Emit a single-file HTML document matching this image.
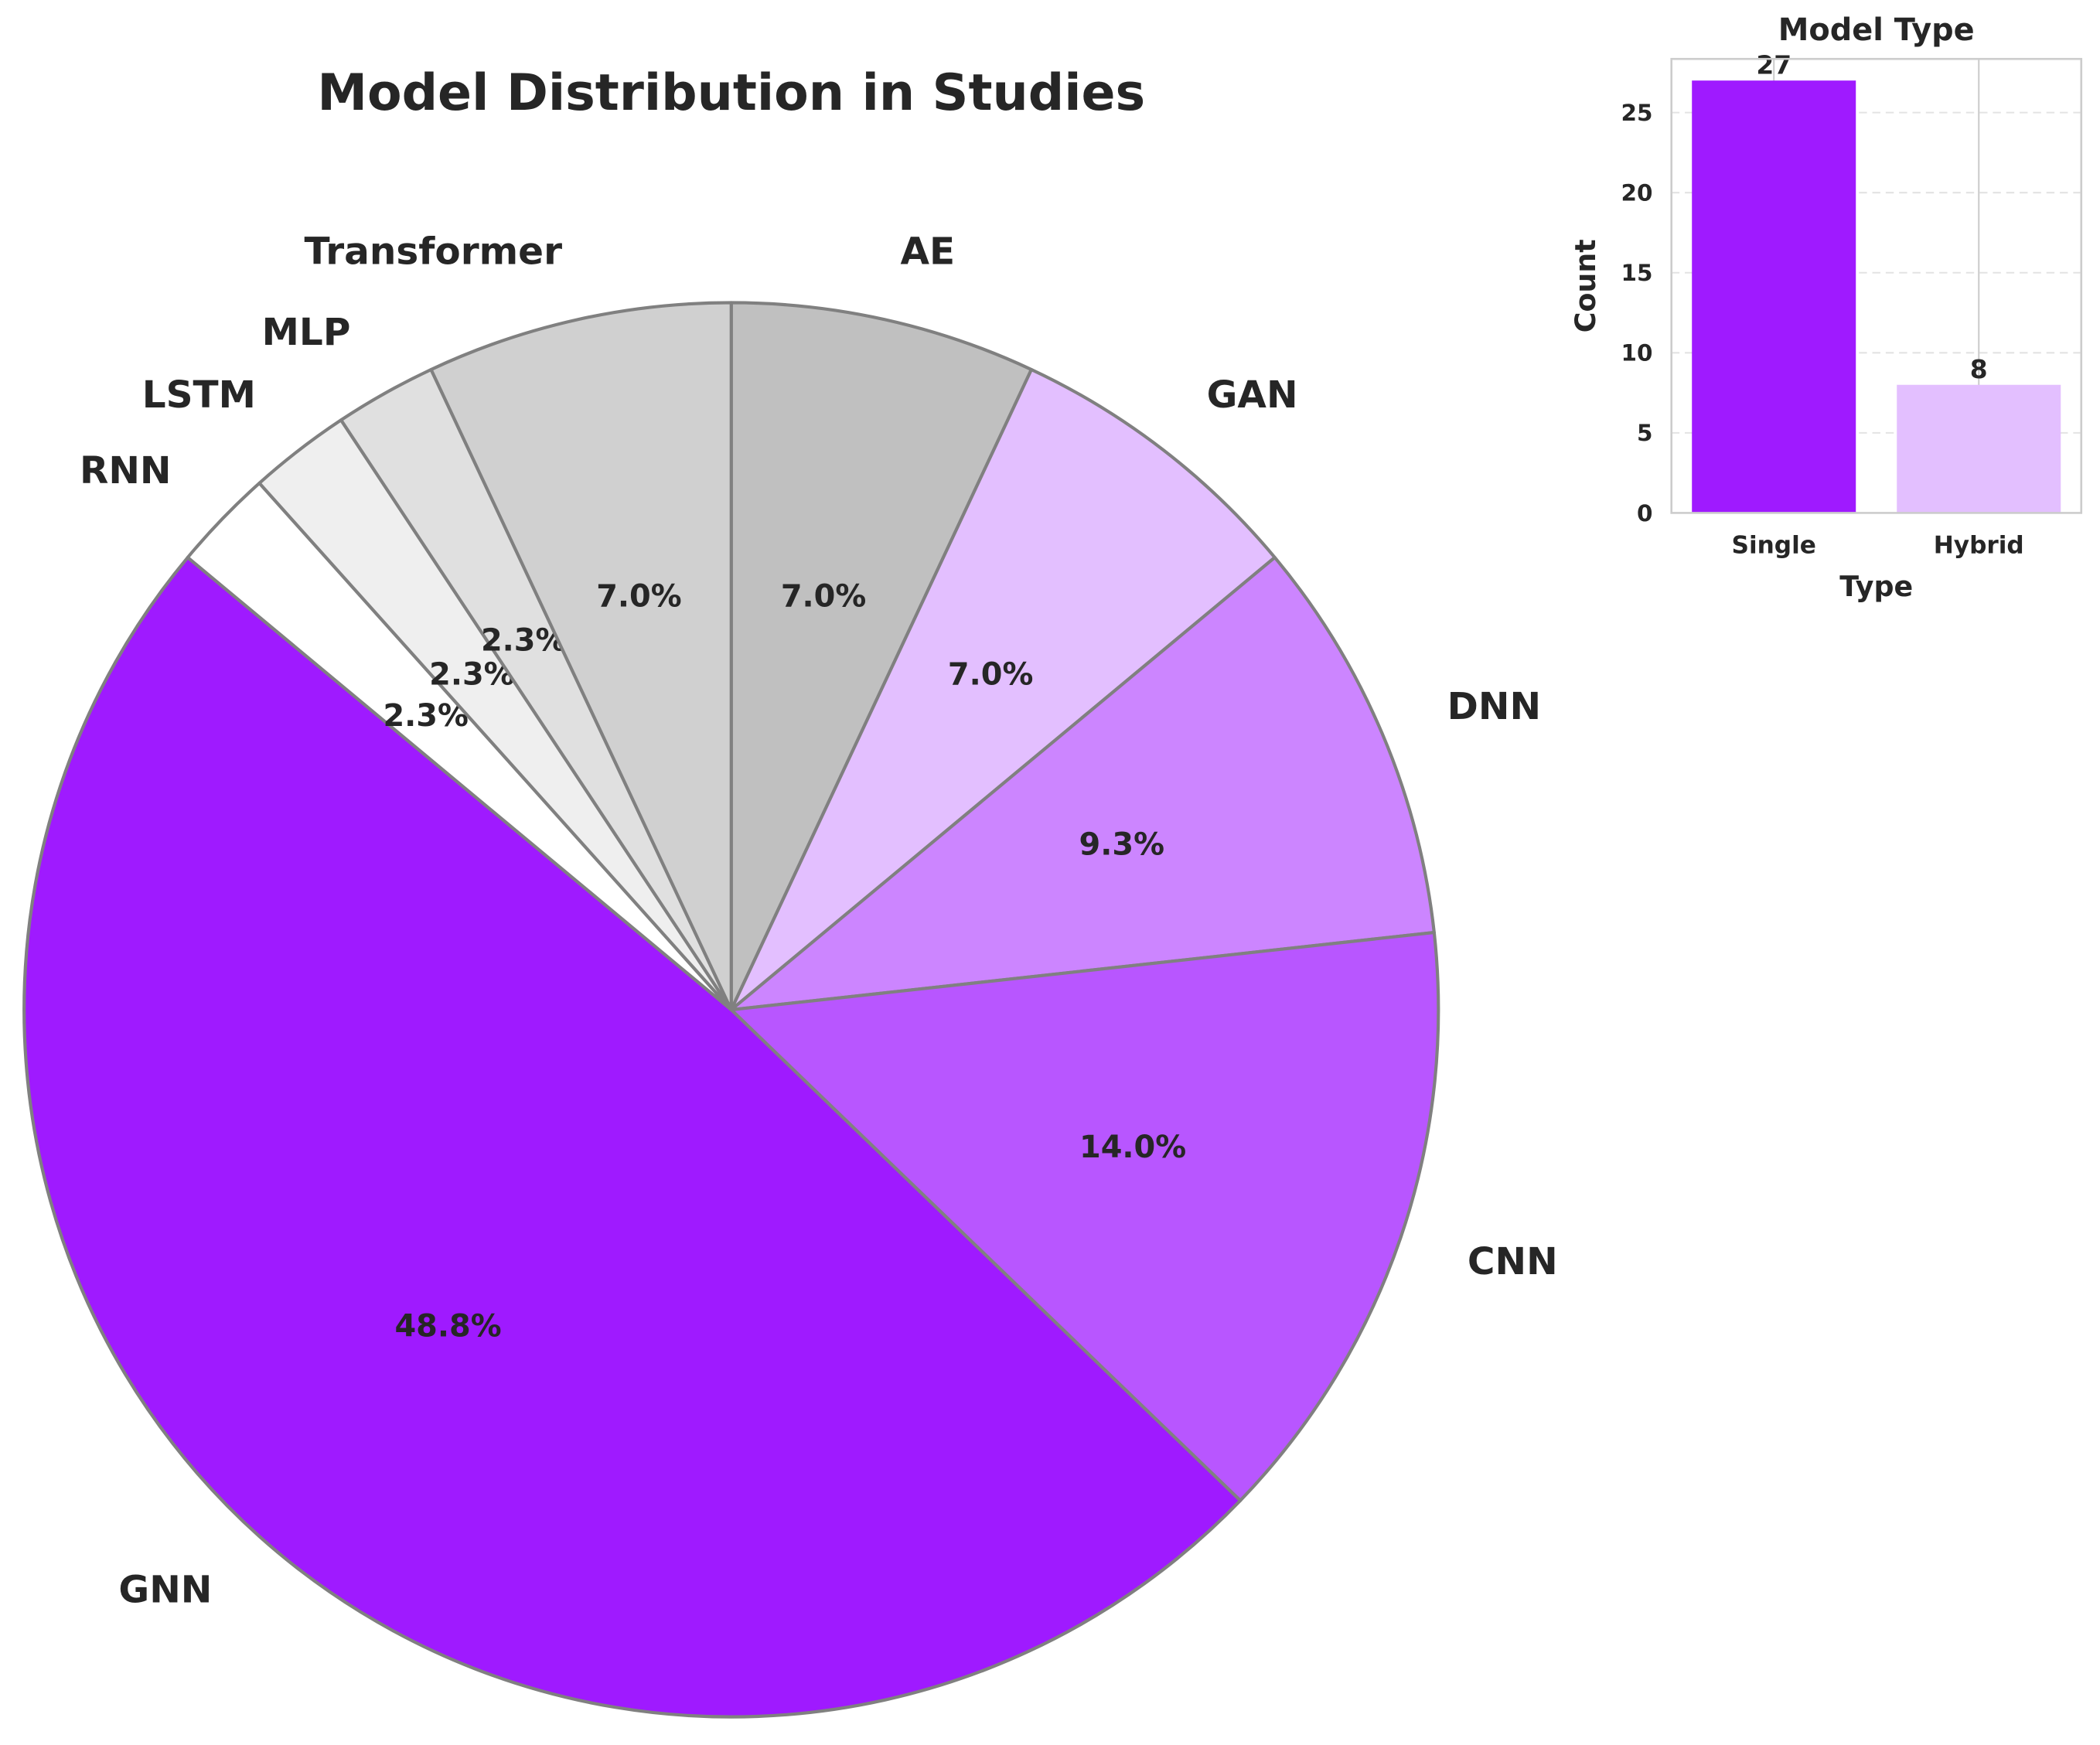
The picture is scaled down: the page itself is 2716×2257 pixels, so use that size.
<!DOCTYPE html>
<html><head><meta charset="utf-8"><style>
html,body{margin:0;padding:0;background:#fff}
svg{display:block}
text{font-family:"DejaVu Sans","Liberation Sans",sans-serif;font-weight:bold;fill:#262626}
</style></head><body>
<svg id="chart" width="2716" height="2257" viewBox="0 0 1568 1303" xmlns="http://www.w3.org/2000/svg">
<rect width="1568" height="1303" fill="#fff"/>
<text x="546" y="82" font-size="37.5" text-anchor="middle">Model Distribution in Studies</text>
<g id="pie"></g>
<g id="bar"></g>
</svg>
<script>
const pieLabels = ["AE","GAN","DNN","CNN","GNN","RNN","LSTM","MLP","Transformer"];
const pieValues = [3,3,4,6,21,1,1,1,3];
const pieColors = ["#c0c0c0","#e3bfff","#cc85ff","#b856ff","#9f1aff","#ffffff","#efefef","#e0e0e0","#d0d0d0"];
const barCats = ["Single","Hybrid"];
const barValues = [27,8];
const barColors = ["#9f1aff","#e3bfff"];
const yTicks = [0,5,10,15,20,25];

const NS="http://www.w3.org/2000/svg";
function mk(tag,attrs,parent,txt){const e=document.createElementNS(NS,tag);for(const k in attrs)e.setAttribute(k,attrs[k]);if(txt!==undefined)e.textContent=txt;parent.appendChild(e);return e;}

// pie
const pie=document.getElementById('pie');
const cx=546,cy=754,R=528;
const total=pieValues.reduce((a,b)=>a+b,0);
let ang=90;
function pt(a,r){const t=a*Math.PI/180;return [cx+r*Math.cos(t),cy-r*Math.sin(t)];}
pieValues.forEach((v,i)=>{
  const sweep=v/total*360;
  const a0=ang,a1=ang-sweep;
  const p0=pt(a0,R),p1=pt(a1,R);
  const large=sweep>180?1:0;
  const path=mk('path',{d:`M${cx},${cy} L${p0[0]},${p0[1]} A${R},${R} 0 ${large} 1 ${p1[0]},${p1[1]} Z`,fill:pieColors[i],stroke:'#808080','stroke-width':2.4,'stroke-linejoin':'round'},pie);
  
  
  const mid=(a0+a1)/2;
  const lp=pt(mid,R*1.1);
  const lab=mk('text',{x:lp[0],y:lp[1]+10,'font-size':28,'text-anchor':Math.cos(mid*Math.PI/180)>=0?'start':'end'},pie,pieLabels[i]);
  
  
  const pp=pt(mid,R*0.6);
  const pc=mk('text',{x:pp[0],y:pp[1]+8,'font-size':23,'text-anchor':'middle'},pie,(v/total*100).toFixed(1)+'%');
  
  
  ang=a1;
});

// bar
const bar=document.getElementById('bar');
const L=1248,Rt=1554,T=44,B=383;
const ymax=Math.max(...barValues)*1.05;
const ys=v=>B-(B-T)*v/ymax;
const xs=i=>L+(Rt-L)*(i+0.5)/barCats.length;
const bw=(Rt-L)/barCats.length*0.8;
yTicks.forEach(t=>{
  if(t>0){const g=mk('line',{x1:L,x2:Rt,y1:ys(t),y2:ys(t),stroke:'#e3e3e3','stroke-width':1.2,'stroke-dasharray':'6,4'},bar);
  }
  const tl=mk('text',{x:L-14,y:ys(t)+6,'font-size':17,'text-anchor':'end'},bar,String(t));
  
});
barCats.forEach((c,i)=>{
  const g=mk('line',{x1:xs(i),x2:xs(i),y1:T,y2:B,stroke:'#cccccc','stroke-width':1.2},bar);
  
});
barCats.forEach((c,i)=>{
  const r=mk('rect',{x:xs(i)-bw/2,y:ys(barValues[i]),width:bw,height:B-ys(barValues[i]),fill:barColors[i]},bar);
  
  const v=mk('text',{x:xs(i),y:ys(barValues[i])-5,'font-size':19,'text-anchor':'middle'},bar,String(barValues[i]));
  
  const xl=mk('text',{x:xs(i),y:413,'font-size':18,'text-anchor':'middle'},bar,c);
  
});
const fr=mk('rect',{x:L,y:T,width:Rt-L,height:B-T,fill:'none',stroke:'#cccccc','stroke-width':1.5},bar);

const bt=mk('text',{x:(L+Rt)/2,y:30,'font-size':23,'text-anchor':'middle'},bar,'Model Type');

const xt=mk('text',{x:(L+Rt)/2,y:445,'font-size':21,'text-anchor':'middle'},bar,'Type');

const yt=mk('text',{x:0,y:0,'font-size':21,'text-anchor':'middle',transform:`translate(1191,${(T+B)/2}) rotate(-90)`},bar,'Count');

</script>
</body></html>
